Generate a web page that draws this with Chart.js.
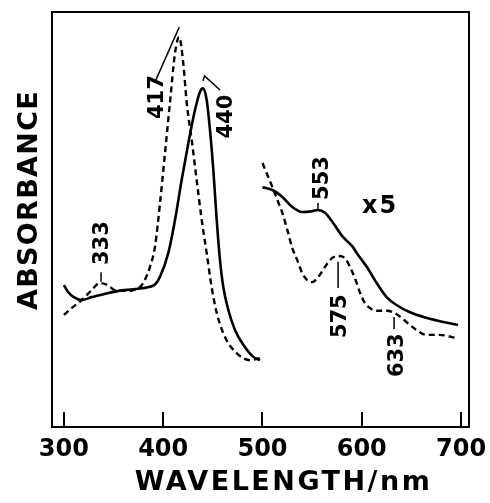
<!DOCTYPE html>
<html>
<head>
<meta charset="utf-8">
<script src="https://cdn.jsdelivr.net/npm/chart.js@4.4.1/dist/chart.umd.min.js"></script>
<style>
  html, body { margin: 0; padding: 0; background: #fff; }
  #wrap { width: 490px; height: 503px; }
</style>
</head>
<body>
<div id="wrap"><canvas id="spectrum"></canvas></div>
<script>
const xTicks = [300, 400, 500, 600, 700];

/* solid, 300-500 nm */
const solidUvNm  = [300, 304, 310, 318, 328, 340, 355, 370, 386.7, 392, 396.8, 405.1, 411.9, 418.6, 425.3, 432, 437.1, 440, 443.8, 447.1, 450.5, 453.9, 457.2, 460.5, 465.6, 472.3, 480.7, 490.7, 497.5];
const solidUvAbs = [34.2, 32.6, 31.3, 30.6, 31.3, 32.0, 32.8, 33.2, 33.8, 34.4, 36.2, 41.9, 49.9, 59.5, 68.4, 76.4, 80.8, 81.6, 78.8, 71.6, 61.9, 49.9, 40.2, 33.8, 28.2, 23.4, 19.8, 16.9, 16.1];

/* dashed, 300-500 nm */
const dashUvNm  = [300, 308, 318, 328, 336, 344, 351, 361, 370, 377, 381, 386.7, 391.7, 396.8, 401.8, 406.8, 411.9, 416, 420.2, 423.7, 428.7, 433.7, 438.8, 443.8, 448.8, 453.9, 462.2, 474, 487.4, 497.5];
const dashUvAbs = [27.0, 28.7, 30.6, 33.0, 34.7, 34.2, 33.0, 32.8, 33.0, 33.8, 35.2, 38.6, 43.4, 54.0, 66.0, 78.1, 90.1, 94.0, 87.7, 78.1, 69.2, 59.5, 49.9, 41.9, 33.7, 27.5, 21.7, 17.8, 16.1, 16.6];

/* solid, 500-700 nm (x5) */
const solidVisNm  = [500, 510, 520, 530, 540, 550, 556, 563, 571, 581, 591, 595, 605, 615, 625, 635, 648, 665, 682, 697];
const solidVisAbs = [57.8, 57.1, 55.4, 53.0, 51.8, 52.0, 52.3, 51.6, 49.2, 45.8, 43.4, 41.9, 38.6, 34.7, 31.3, 29.4, 27.7, 26.3, 25.3, 24.6];

/* dashed, 500-700 nm (x5) */
const dashVisNm  = [500, 505, 510, 515, 520, 525, 530, 535, 540, 545, 550, 556, 563, 570, 576, 583, 588, 593, 598, 603, 608, 615, 625, 631, 638, 645, 655, 665, 678, 696];
const dashVisAbs = [63.6, 60.7, 57.8, 54.7, 51.6, 47.5, 43.1, 40.2, 37.1, 35.4, 34.9, 36.1, 38.6, 40.7, 41.2, 40.7, 38.6, 35.9, 32.5, 29.9, 28.7, 28.0, 28.0, 27.7, 26.7, 25.3, 23.4, 22.2, 22.2, 21.4];

const peakLabels = ['333', '417', '440', '553', '575', '633'];
const scaleNote = 'x5';

// where each label sits (data units) and its leader line
const noteLayout = {
  '333': { at: [336.3, 44.3], leader: [[337.4, 37.3], [337.4, 35.0]] },
  '417': { at: [391.7, 79.5], leader: [[392.2, 83.4], [416.2, 96.4]] },
  '440': { at: [461.2, 74.8], leader: [[440.1, 83.4], [441.6, 84.6], [457.2, 81.2]] },
  '553': { at: [557.9, 60.0], leader: [[555.9, 54.0], [555.9, 52.3]] },
  '575': { at: [576.1, 26.7], leader: [[576.1, 39.8], [576.1, 33.5]] },
  '633': { at: [633.5, 17.3], leader: [[632.5, 26.5], [632.5, 23.6]] },
};
const scaleNoteAt = [618.4, 53.7];

const pts = (xs, ys) => xs.map((v, i) => ({ x: v, y: ys[i] }));

const DASH = [6, 4];

const data = {
  datasets: [{
    data: pts(solidUvNm, solidUvAbs),
    borderColor: '#000',
    borderWidth: 2.6,
  }, {
    data: pts(dashUvNm, dashUvAbs),
    borderColor: '#000',
    borderWidth: 2.4,
    borderDash: DASH,
  }, {
    data: pts(solidVisNm, solidVisAbs),
    borderColor: '#000',
    borderWidth: 2.6,
  }, {
    data: pts(dashVisNm, dashVisAbs),
    borderColor: '#000',
    borderWidth: 2.4,
    borderDash: DASH,
  }]
};

const peakNotes = {
  id: 'peakNotes',
  afterDatasetsDraw(chart) {
    const { ctx, scales: { x, y } } = chart;
    ctx.save();
    ctx.fillStyle = '#000';
    ctx.strokeStyle = '#000';
    ctx.lineWidth = 1.5;
    ctx.font = 'bold 21px "DejaVu Sans"';
    ctx.textAlign = 'center';
    ctx.textBaseline = 'alphabetic';
    peakLabels.forEach(t => {
      const n = noteLayout[t];
      ctx.beginPath();
      n.leader.forEach(([a, b], i) => {
        const px = x.getPixelForValue(a), py = y.getPixelForValue(b);
        if (i) ctx.lineTo(px, py); else ctx.moveTo(px, py);
      });
      ctx.stroke();
      ctx.save();
      ctx.translate(x.getPixelForValue(n.at[0]) + 7.6, y.getPixelForValue(n.at[1]));
      ctx.rotate(-Math.PI / 2);
      ctx.fillText(t, 0, 0);
      ctx.restore();
    });
    ctx.font = 'bold 24px "DejaVu Sans"';
    ctx.letterSpacing = '2px';
    ctx.fillText(scaleNote, x.getPixelForValue(scaleNoteAt[0]), y.getPixelForValue(scaleNoteAt[1]) + 8.5);
    ctx.restore();
  }
};

const axisTitles = {
  id: 'axisTitles',
  afterDraw(chart) {
    const { ctx, chartArea: a } = chart;
    ctx.save();
    ctx.fillStyle = '#000';
    ctx.font = 'bold 27px "DejaVu Sans"';
    ctx.textAlign = 'center';
    ctx.textBaseline = 'alphabetic';
    ctx.letterSpacing = '1.3px';
    ctx.translate(a.left - 15.5, (a.top + a.bottom) / 2 - 19.5);
    ctx.rotate(-Math.PI / 2);
    ctx.fillText('ABSORBANCE', 0, 0);
    ctx.restore();
    ctx.save();
    ctx.fillStyle = '#000';
    ctx.font = 'bold 27px "DejaVu Sans"';
    ctx.textAlign = 'center';
    ctx.textBaseline = 'alphabetic';
    ctx.letterSpacing = '2.5px';
    ctx.fillText('WAVELENGTH/nm', (a.left + a.right) / 2 + 23, a.bottom + 63);
    ctx.restore();
  }
};

const frameAxis = {
  type: 'linear',
  ticks: { display: false },
  grid: { display: false, drawTicks: false },
  border: { display: true, color: '#000', width: 2 },
};

Chart.defaults.font.family = '"DejaVu Sans"';
Chart.defaults.color = '#000';

const config = {
  type: 'line',
  data: data,
  options: {
    responsive: true,
    maintainAspectRatio: false,
    animation: false,
    layout: { padding: { top: 12, right: 21, left: 0, bottom: 0 } },
    elements: {
      point: { radius: 0 },
      line: { cubicInterpolationMode: 'monotone', fill: false },
    },
    scales: {
      x: {
        type: 'linear',
        position: 'bottom',
        min: 288,
        max: 708,
        afterBuildTicks(scale) {
          scale.ticks = xTicks.map(v => ({ value: v }));
        },
        afterFit(scale) {
          scale.height = 76;
          scale.paddingLeft = 0;
          scale.paddingRight = 0;
        },
        ticks: {
          font: { size: 24, weight: 'bold' },
          color: '#000',
          padding: 23,
          maxRotation: 0,
          callback: v => String(v),
        },
        grid: {
          display: true,
          drawOnChartArea: false,
          drawTicks: true,
          tickLength: -15,
          color: '#000',
          lineWidth: 2,
        },
        border: { display: true, color: '#000', width: 2 },
      },
      y: {
        type: 'linear',
        position: 'left',
        min: 0,
        max: 100,
        afterFit(scale) { scale.width = 52; },
        ticks: { display: false },
        grid: { display: false, drawTicks: false },
        border: { display: true, color: '#000', width: 2 },
      },
      x2: Object.assign({}, frameAxis, {
        position: 'top', min: 288, max: 708,
        afterFit(scale) { scale.height = 0; },
      }),
      y2: Object.assign({}, frameAxis, {
        position: 'right', min: 0, max: 100,
        afterFit(scale) { scale.width = 0; },
      }),
    },
    plugins: {
      legend: { display: false },
      tooltip: { enabled: false },
    }
  },
  plugins: [peakNotes, axisTitles],
};

const spectrumChart = new Chart(
  document.getElementById('spectrum'),
  config
);
</script>
</body>
</html>
